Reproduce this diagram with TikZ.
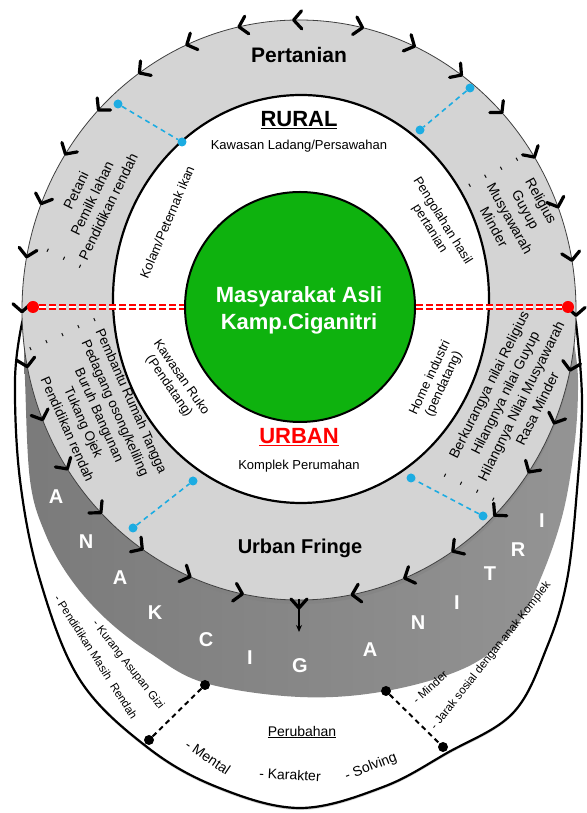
\documentclass[tikz,border=0pt]{standalone}
\usepackage{fontspec}
\setmainfont{Liberation Sans}
\usetikzlibrary{arrows.meta,decorations.markings,shadows}
\definecolor{coregreen}{RGB}{14,178,14}
\definecolor{linkblue}{RGB}{28,172,226}
\definecolor{ringgrey}{RGB}{212,212,212}
\newcommand\fsz[2]{\fontsize{#1}{#2}\selectfont}
\tikzset{
    %Define style for the rings
    outerzone/.style={
           fill=white,
           draw=black, line width=2.2pt,
           drop shadow={shadow xshift=0pt,shadow yshift=-2pt,opacity=.35}},
    darkzone/.style={
           left color=black!52,
           right color=black!42},
    lightzone/.style={
           fill=ringgrey,
           drop shadow={shadow xshift=0pt,shadow yshift=-4pt,opacity=.45}},
    innerzone/.style={
           fill=white,
           draw=black, line width=2.2pt},
    core/.style={
           circle,
           fill=coregreen,
           draw=black, line width=2pt,
           minimum size=230pt},
    % Define arrow style
    chevron/.style={draw=black, line width=3.2pt, line cap=round, miter limit=4},
    ringflow/.style={
           draw=black!75, line width=.8pt,
           postaction={decorate},
           decoration={markings,
              mark=between positions #1 step 0.062 with {\draw[chevron] (-8pt,9pt) -- (0pt,0pt) -- (-8pt,-9pt);}}},
    bluedot/.style={circle, fill=linkblue, inner sep=0pt, minimum size=9pt},
    bluelink/.style={draw=linkblue, line width=1.6pt, dash pattern=on 5pt off 4pt},
    reddot/.style={circle, fill=red, inner sep=0pt, minimum size=12pt},
    redlink/.style={draw=red, line width=1.8pt, double=white, double distance=2.2pt,
           dash pattern=on 7pt off 3pt},
    blackdot/.style={circle, fill=black, inner sep=0pt, minimum size=10pt},
    blacklink/.style={draw=black, line width=2pt, dash pattern=on 5pt off 4pt},
    % Define style for texts
    ringtext/.style={font=\fsz{14}{18}, align=center, inner sep=0pt},
    zonetext/.style={font=\fsz{13}{15}, align=center, inner sep=0pt},
    lowtext/.style={font=\fsz{11.5}{14}, inner sep=0pt},
    ringletter/.style={font=\fsz{20}{20}\bfseries, text=white, inner sep=0pt}
}

\begin{document}
\begin{tikzpicture}[x=1pt,y=1pt,line join=round]
\fill[white] (0,0) rectangle (586,813);
\useasboundingbox (0,0) rectangle (586,813);
% layers
\path[outerzone] plot[smooth, tension=.6] coordinates {(22,490) (15,433) (20,333) (40,233) (80,133)
  (147,66) (217,26) (300,5) (383,26) (447,60) (513,100) (547,166) (567,233) (577,323) (582,413) (576,490)}
  -- (560,560) -- (40,560) -- cycle;
\path[darkzone] plot[smooth, tension=.6] coordinates {(24,470) (25,433) (30,333) (45,280) (70,235)
  (105,195) (150,160) (205,130) (300,116) (386,122) (467,146) (513,183) (540,233) (563,300) (575,373) (578,433) (574,470)}
  -- (540,560) -- (60,560) -- cycle;
\path[lightzone] (299,503) ellipse [x radius=277pt, y radius=290pt];
\draw[ringflow={0.006 and 0.95}] (299,793) arc[start angle=90, end angle=270, x radius=277pt, y radius=290pt];
\draw[ringflow={0.072 and 0.95}] (299,793) arc[start angle=90, end angle=-90, x radius=277pt, y radius=290pt];
\path[innerzone] (301,514) ellipse [x radius=188pt, y radius=204pt];

% arrow down into the lower ring
\coordinate (fringeB) at (299,214);
\coordinate (fringeV) at (299,205);
\coordinate (downEnd) at (299,181);
\draw[line width=1.3pt, -{Stealth[length=7pt,width=6pt]}] (fringeB) -- (downEnd);
\draw[chevron] ([shift={(-8pt,9pt)}]fringeV) -- (fringeV) -- ([shift={(8pt,9pt)}]fringeV);

% blue links
\node[bluedot] (tlO) at (118,709) {};
\node[bluedot] (tlI) at (182,671) {};
\node[bluedot] (trO) at (470,725) {};
\node[bluedot] (trI) at (420,683) {};
\node[bluedot] (blO) at (133,285) {};
\node[bluedot] (blI) at (193,332) {};
\node[bluedot] (brO) at (483,297) {};
\node[bluedot] (brI) at (411,335) {};
\path[bluelink] (tlO) -- (tlI) (trO) -- (trI) (blO) -- (blI) (brO) -- (brI);

% red axis and core
\node[core] (core) at (300,506) {};
\node[reddot] (redL) at (33,506) {};
\node[reddot] (redR) at (568,506) {};
\path[redlink] (redL) -- (core.west) (core.east) -- (redR);
\node[font=\fsz{22}{27}\bfseries, text=white, align=center] (coretext) at (299,503) {Masyarakat Asli\\Kamp.Ciganitri};

% black links
\node[blackdot] (lowLa) at (205,128) {};
\node[blackdot] (lowLb) at (149,73) {};
\node[blackdot] (lowRa) at (386,122) {};
\node[blackdot] (lowRb) at (443,66) {};
\path[blacklink] (lowLa) -- (lowLb) (lowRa) -- (lowRb);

% titles
\node[font=\fsz{21}{21}\bfseries] (pertanian) at (299,758) {Pertanian};
\node[font=\fsz{22}{22}\bfseries] (rural) at (299,693) {\underline{RURAL}};
\node[zonetext] (ladang) at (299,667) {Kawasan Ladang/Persawahan};
\node[font=\fsz{22}{22}\bfseries, text=red] (urban) at (299,376) {\underline{URBAN}};
\node[zonetext] (komplek) at (299,347) {Komplek Perumahan};
\node[font=\fsz{20}{20}\bfseries] (fringe) at (300,265) {Urban Fringe};

% white ring texts
\node[zonetext, rotate=67] (kolam) at (167,591) {Kolam/Peternak ikan};
\node[zonetext, rotate=-58] (olah) at (436,588) {Pengolahan hasil\\pertanian};
\node[zonetext, rotate=-55] (ruko) at (175,431) {Kawasan Ruko\\(Pendatang)};
\node[zonetext, rotate=65] (home) at (437,432) {Home industri\\(pendatang)};

% grey ring texts
\node[ringtext, rotate=64] (asli) at (91,609) {\begin{tabular}{@{}l@{\hspace{6pt}}c@{}}
- & Petani\\ - & Pemilk lahan\\ - & Pendidikan rendah\end{tabular}};
\node[ringtext, rotate=-61] (nilai) at (514,603) {\begin{tabular}{@{}l@{\hspace{6pt}}c@{}}
- & Religius\\ - & Guyup\\ - & Musyawarah\\ - & Minder\end{tabular}};
\node[ringtext, font=\fsz{13.5}{17.5}, rotate=-66] (kerja) at (96,403) {\begin{tabular}{@{}l@{\hspace{8pt}}c@{}}
- & Pembantu Rumah Tangga\\ - & Pedagang osong/keliling\\ - & Buruh Bangunan\\ - & Tukang Ojek\\ - & Pendidikan rendah\end{tabular}};
\node[ringtext, rotate=63.5] (hilang) at (511,409) {\begin{tabular}{@{}l@{\hspace{10pt}}c@{}}
- & Berkurangya nilai Religius\\ - & Hilangnya nilai Guyup\\ - & Hilangnya Nilai Musyawarah\\ - & Rasa Minder\end{tabular}};

% ANAK CIGANITRI
\foreach \ch/\px/\py [count=\i] in {A/56/497, N/86/542, A/120/578, K/155/613, C/206/640, I/250/658, G/300/666, A/370/650, N/418/623, I/457/603, T/490/574, R/518/550, I/542/521}
  \node[ringletter] (letter\i) at (\px,{813-\py}) {\ch};

% lower zone texts
\node[lowtext, rotate=-52] (gizi) at (128,148) {- Kurang Asupan Gizi};
\node[lowtext, rotate=-57.5] (didik) at (96,156) {- Pendidikan Masih\ \ Rendah};
\node[lowtext, rotate=42] (minder) at (430,126) {- Minder};
\node[lowtext, rotate=51.5] (jarak) at (491,157) {- Jarak sosial dengan anak Komplek};
\node[font=\fsz{14}{14}] (perubahan) at (302,81) {\underline{Perubahan}};
\node[font=\fsz{14}{14}, rotate=-34] (mental) at (208,56) {- Mental};
\node[font=\fsz{14}{14}, rotate=-3] (karakter) at (290,38) {- Karakter};
\node[font=\fsz{14}{14}, rotate=21] (solving) at (371,46) {- Solving};
\end{tikzpicture}
\end{document}
